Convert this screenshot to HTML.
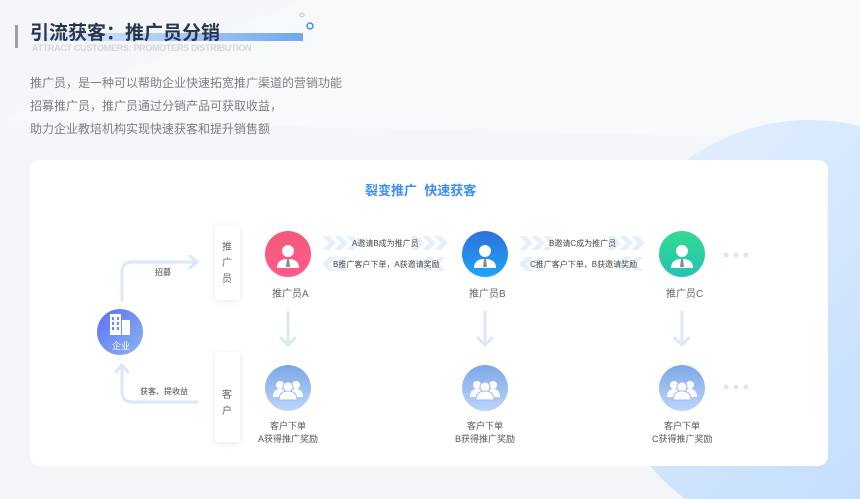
<!DOCTYPE html>
<html><head><meta charset="utf-8"><style>
*{margin:0;padding:0}
html,body{width:860px;height:499px;overflow:hidden}
body{background:#f5f6f9;font-family:"Liberation Sans","Noto Sans CJK SC",sans-serif;position:relative}
.t{position:absolute;white-space:nowrap}
</style></head><body>
<svg width="860" height="499" style="position:absolute;left:0;top:0">
<defs>
<linearGradient id="bg" x1="0" y1="0" x2="1" y2="1"><stop offset="0" stop-color="#e6f1fe"/><stop offset="1" stop-color="#b9d8fb"/></linearGradient>
<linearGradient id="ul" x1="0" x2="1"><stop offset="0" stop-color="#e8f0fc"/><stop offset="1" stop-color="#6fa8f0"/></linearGradient>
<linearGradient id="gA" x1="0" y1="0" x2="0" y2="1"><stop offset="0" stop-color="#f25a7a"/><stop offset="1" stop-color="#ff5a8a"/></linearGradient>
<linearGradient id="gB" x1="0" y1="0" x2="0" y2="1"><stop offset="0" stop-color="#2f6fe0"/><stop offset="1" stop-color="#1fa5f5"/></linearGradient>
<linearGradient id="gC" x1="0" y1="0" x2="0" y2="1"><stop offset="0" stop-color="#35d98f"/><stop offset="1" stop-color="#25c2b8"/></linearGradient>
<linearGradient id="gK" x1="0" y1="0" x2="0" y2="1"><stop offset="0" stop-color="#7da6e6"/><stop offset="1" stop-color="#bcd6fa"/></linearGradient>
<linearGradient id="gE" x1="0" y1="0" x2="1" y2="1"><stop offset="0" stop-color="#5c6ff0"/><stop offset="1" stop-color="#8cb4f5"/></linearGradient>
<g id="ch"><path d="M0 0h7l7 7-7 7h-7l7-7z" fill="#e6effa"/></g>
<g id="chl"><path d="M14 0h-7l-7 7 7 7h7l-7-7z" fill="#e6effa"/></g>
<g id="person"><circle cx="0" cy="-5" r="6" fill="#fff"/><path d="M-11 12c0-7 5-9 11-9s11 2 11 9z" fill="#fff"/><path d="M-1 3h2l1 8h-4z" fill="#888"/></g>
<g id="grp"><circle cx="-8" cy="-5" r="4" fill="#fff"/><circle cx="8" cy="-5" r="4" fill="#fff"/><path d="M-15 7c0-6 3-8 7-8s7 2 7 8z" fill="#fff"/><path d="M1 7c0-6 3-8 7-8s7 2 7 8z" fill="#fff"/><circle cx="0" cy="-3" r="5" fill="#fff" stroke="#9bbcf0" stroke-width="1"/><path d="M-9 10c0-7 4-9 9-9s9 2 9 9z" fill="#fff" stroke="#9bbcf0" stroke-width="1"/></g>
<filter id="sh" x="-20%" y="-20%" width="140%" height="140%"><feDropShadow dx="0" dy="1" stdDeviation="3" flood-color="#9aa" flood-opacity="0.25"/></filter>
</defs>
<polygon points="0,120 300,0 860,0 860,140" fill="#f8f9fb"/>
<circle cx="810" cy="330" r="210" fill="url(#bg)"/>
<rect x="15" y="25" width="3" height="23" fill="#9aa0a8"/>
<rect x="30" y="33" width="273" height="8" fill="url(#ul)"/>
<circle cx="302" cy="15" r="2" fill="none" stroke="#a8c8f0" stroke-width="1"/>
<circle cx="310" cy="26" r="3" fill="none" stroke="#3d8ef0" stroke-width="1.5"/>
<rect x="30" y="160" width="798" height="306" rx="10" fill="#fff"/>
<rect x="215" y="225" width="25" height="75" rx="2" fill="#fff" filter="url(#sh)"/>
<rect x="215" y="352" width="25" height="90" rx="2" fill="#fff" filter="url(#sh)"/>
<g>
<use href="#ch" x="322" y="236"/><use href="#ch" x="334" y="236"/><use href="#ch" x="346" y="236"/><use href="#ch" x="410" y="236"/><use href="#ch" x="422" y="236"/><use href="#ch" x="434" y="236"/>
<use href="#chl" x="322" y="257"/><use href="#chl" x="334" y="257"/><use href="#chl" x="420" y="257"/><use href="#chl" x="432" y="257"/>
<use href="#ch" x="519" y="236"/><use href="#ch" x="531" y="236"/><use href="#ch" x="543" y="236"/><use href="#ch" x="607" y="236"/><use href="#ch" x="619" y="236"/><use href="#ch" x="631" y="236"/>
<use href="#chl" x="519" y="257"/><use href="#chl" x="531" y="257"/><use href="#chl" x="617" y="257"/><use href="#chl" x="629" y="257"/>
</g>
<circle cx="288" cy="254" r="23" fill="url(#gA)"/><use href="#person" x="288" y="256"/>
<circle cx="485" cy="254" r="23" fill="url(#gB)"/><use href="#person" x="485" y="256"/>
<circle cx="682" cy="254" r="23" fill="url(#gC)"/><use href="#person" x="682" y="256"/>
<g fill="#dfe6f0"><circle cx="726" cy="255" r="2.5"/><circle cx="736" cy="255" r="2.5"/><circle cx="746" cy="255" r="2.5"/><circle cx="726" cy="387" r="2.5"/><circle cx="736" cy="387" r="2.5"/><circle cx="746" cy="387" r="2.5"/></g>
<g stroke="#dce8f8" stroke-width="3" fill="none" stroke-linecap="round">
<path d="M288 312v33M281 338l7 7 7-7"/><path d="M485 312v33M478 338l7 7 7-7"/><path d="M682 312v33M675 338l7 7 7-7"/>
<path d="M122 300v-28q0-10 10-10h65M190 256l7 6-7 6"/>
<path d="M197 402h-65q-10 0-10-10v-27M116 372l6-7 6 7"/>
</g>
<circle cx="288" cy="388" r="23" fill="url(#gK)"/><use href="#grp" x="288" y="390"/>
<circle cx="485" cy="388" r="23" fill="url(#gK)"/><use href="#grp" x="485" y="390"/>
<circle cx="682" cy="388" r="23" fill="url(#gK)"/><use href="#grp" x="682" y="390"/>
<circle cx="120" cy="332" r="23" fill="url(#gE)"/>
<g fill="#fff"><rect x="110" y="314" width="11" height="21"/><rect x="122" y="320" width="8" height="15"/></g>
<g fill="#6f86ee"><rect x="112" y="317" width="2" height="3"/><rect x="117" y="317" width="2" height="3"/><rect x="112" y="322" width="2" height="3"/><rect x="117" y="322" width="2" height="3"/><rect x="112" y="327" width="2" height="3"/><rect x="117" y="327" width="2" height="3"/></g>
</svg>
<div class="t" style="left:30px;top:18px;font-size:19px;font-weight:bold;color:#2a3550">引流获客：推广员分销</div>
<div class="t" style="left:32px;top:43px;font-size:9px;font-weight:bold;color:#d4d7dc;letter-spacing:-0.3px">ATTRACT CUSTOMERS: PROMOTERS DISTRIBUTION</div>
<div class="t" style="left:30px;top:72px;font-size:12px;line-height:23px;color:#7a7f87">推广员，是一种可以帮助企业快速拓宽推广渠道的营销功能<br>招募推广员，推广员通过分销产品可获取收益，<br>助力企业教培机构实现快速获客和提升销售额</div>
<div class="t" style="left:365px;top:180px;font-size:13px;color:#3d8ef0;font-weight:bold">裂变推广&nbsp;&nbsp;快速获客</div>
<div class="t" style="left:222px;top:240px;font-size:10px;line-height:16px;color:#666;width:12px;white-space:normal">推广员</div>
<div class="t" style="left:222px;top:388px;font-size:10px;line-height:16px;color:#666;width:12px;white-space:normal">客户</div>
<div class="t" style="left:272px;top:285px;font-size:10px;color:#666">推广员A</div>
<div class="t" style="left:469px;top:285px;font-size:10px;color:#666">推广员B</div>
<div class="t" style="left:666px;top:285px;font-size:10px;color:#666">推广员C</div>
<div class="t" style="left:352px;top:238px;font-size:8px;color:#444">A邀请B成为推广员</div>
<div class="t" style="left:333px;top:259px;font-size:8px;color:#444">B推广客户下单，A获邀请奖励</div>
<div class="t" style="left:549px;top:238px;font-size:8px;color:#444">B邀请C成为推广员</div>
<div class="t" style="left:530px;top:259px;font-size:8px;color:#444">C推广客户下单，B获邀请奖励</div>
<div class="t" style="left:155px;top:267px;font-size:8px;color:#444">招募</div>
<div class="t" style="left:140px;top:386px;font-size:8px;color:#444">获客、提收益</div>
<div class="t" style="left:112px;top:339px;font-size:9px;color:#fff">企业</div>
<div class="t" style="left:258px;top:420px;font-size:9px;line-height:13px;color:#555;text-align:center;width:60px">客户下单<br>A获得推广奖励</div>
<div class="t" style="left:455px;top:420px;font-size:9px;line-height:13px;color:#555;text-align:center;width:60px">客户下单<br>B获得推广奖励</div>
<div class="t" style="left:652px;top:420px;font-size:9px;line-height:13px;color:#555;text-align:center;width:60px">客户下单<br>C获得推广奖励</div>
</body></html>
